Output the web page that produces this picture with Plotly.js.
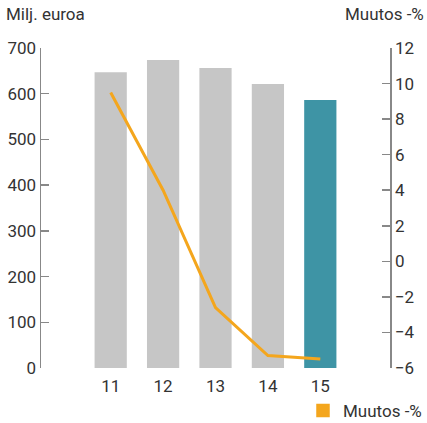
<!DOCTYPE html>
<html><head><meta charset="utf-8">
<script src="https://cdn.plot.ly/plotly-3.0.1.min.js"></script>
<style>html,body{margin:0;padding:0;background:#fff}#chart{width:427px;height:423px}</style>
</head><body><div id="chart"></div>
<script>
const categories = ["11","12","13","14","15"];
const revenue = [647, 674, 656, 621, 586];
const changePct = [9.5, 4.0, -2.6, -5.3, -5.5];
const barColors = ["#c6c6c6","#c6c6c6","#c6c6c6","#c6c6c6","#3e94a5"];
const leftTicks = [0,100,200,300,400,500,600,700];
const rightTicks = [-6,-4,-2,0,2,4,6,8,10,12];
const seriesName = "Muutos -%";
const leftTitle = "Milj. euroa";
const rightTitle = "Muutos -%";

const font = {family: "Roboto, 'DejaVu Sans', sans-serif", size: 17, color: "#333"};
const axisCol = "#888";

const traces = [
  {type:"bar", x:categories, y:revenue, marker:{color:barColors}, width:0.615, showlegend:false, hoverinfo:"skip"},
  {type:"scatter", mode:"lines", x:categories, y:changePct, yaxis:"y2", line:{color:"#f4a61d", width:3}, showlegend:false},
  {type:"bar", x:[categories[0]], y:[null], name:seriesName, marker:{color:"#f4a61d", line:{color:"#f4a61d", width:1.5}}, showlegend:true}
];

const layout = {
  width:427, height:423,
  margin:{l:41, r:37, t:48, b:55, autoexpand:false},
  paper_bgcolor:"#fff", plot_bgcolor:"#fff",
  font:font,
  barmode:"overlay",
  xaxis:{type:"category", range:[-1.33,5.33], showline:false, ticks:"", showgrid:false, zeroline:false, tickfont:font, ticklabelstandoff:6},
  yaxis:{range:[0,700], tickvals:leftTicks, showgrid:false, zeroline:false, showline:true, linecolor:axisCol, linewidth:1.5,
         ticks:"inside", ticklen:8, tickcolor:axisCol, tickwidth:1.5, tickfont:font, ticklabelstandoff:0},
  yaxis2:{overlaying:"y", side:"right", range:[-6,12], tickvals:rightTicks, showgrid:false, zeroline:false, showline:true,
          linecolor:axisCol, linewidth:1.5, ticks:"inside", ticklen:8, tickcolor:axisCol, tickwidth:1.5, tickfont:font, ticklabelstandoff:0},
  showlegend:true,
  legend:{x:1.106, xanchor:"right", y:-0.134, yanchor:"middle", font:font, orientation:"h", bgcolor:"rgba(0,0,0,0)", itemwidth:30},
  annotations:[
    {text:leftTitle, xref:"paper", yref:"paper", x:-41/349, xshift:4, xanchor:"left", y:1, yshift:22, yanchor:"bottom", showarrow:false, font:font},
    {text:rightTitle, xref:"paper", yref:"paper", x:1, xshift:36, xanchor:"right", y:1, yshift:22, yanchor:"bottom", showarrow:false, font:font}
  ]
};
Plotly.newPlot("chart", traces, layout, {staticPlot:true, displayModeBar:false});
</script></body></html>
